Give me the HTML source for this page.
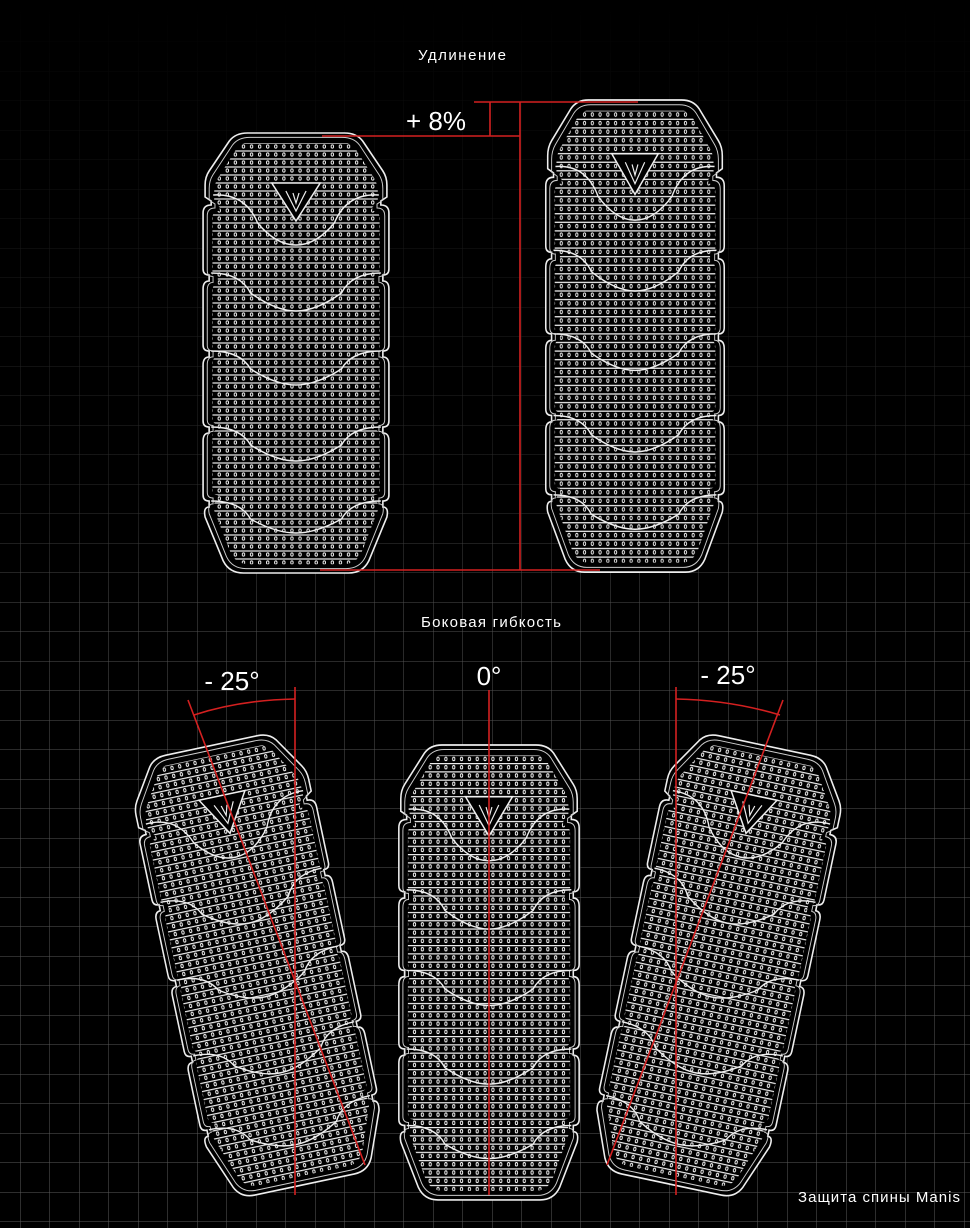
<!DOCTYPE html>
<html><head><meta charset="utf-8"><style>
html,body{margin:0;padding:0;background:#000;}
body{width:970px;height:1228px;overflow:hidden;position:relative;}
svg{position:absolute;left:0;top:0;}
</style></head><body>
<svg width="970" height="1228" viewBox="0 0 970 1228" xmlns="http://www.w3.org/2000/svg">
<defs>
  <linearGradient id="gfade" x1="0" y1="0" x2="0" y2="1">
    <stop offset="0" stop-color="#fff" stop-opacity="0"/>
    <stop offset="0.08" stop-color="#fff" stop-opacity="0.04"/>
    <stop offset="0.4" stop-color="#fff" stop-opacity="0.18"/>
    <stop offset="0.5" stop-color="#fff" stop-opacity="0.32"/>
    <stop offset="1" stop-color="#fff" stop-opacity="0.36"/>
  </linearGradient>
  <pattern id="grid" x="20" y="130" width="29.5" height="29.5" patternUnits="userSpaceOnUse">
    <path d="M0 0 H29.5 M0 0 V29.5" stroke="#fff" stroke-width="1" fill="none"/>
  </pattern>
  <mask id="gm"><rect width="970" height="1228" fill="url(#gfade)"/></mask>
  <pattern id="dots" x="0" y="0" width="8" height="8" patternUnits="userSpaceOnUse">
    <path d="M0 2 H8" stroke="#eee" stroke-width="1.2"/>
    <ellipse cx="4" cy="5.5" rx="1.2" ry="1.7" fill="none" stroke="#fff" stroke-width="0.9"/>
  </pattern>
  <path id="outer" d="M-48 0 L48 0 Q60 0 66 8 L86 38 Q90 44 90 52 L90 64 L84 68 L84 72 Q92 72 92 80 L92 136 Q92 142 86 142 L86 148 Q92 148 92 156 L92 212 Q92 218 86 218 L86 224 Q92 224 92 232 L92 288 Q92 294 86 294 L86 300 Q92 300 92 308 L92 362 Q92 368 86 368 L86 374 Q92 374 90 384 L72 428 Q66 440 52 440 L-52 440 Q-66 440 -72 428 L-90 384 Q-92 374 -86 374 L-86 368 Q-92 368 -92 362 L-92 308 Q-92 300 -86 300 L-86 294 Q-92 294 -92 288 L-92 232 Q-92 224 -86 224 L-86 218 Q-92 218 -92 212 L-92 156 Q-92 148 -86 148 L-86 142 Q-92 142 -92 136 L-92 80 Q-92 72 -84 72 L-84 68 L-90 64 L-90 52 Q-90 44 -86 38 L-66 8 Q-60 0 -48 0 Z"/>
  <clipPath id="inclip"><use href="#outer" transform="translate(0,220) scale(0.9,0.96) translate(0,-220)"/></clipPath>
  <g id="prot">
    <use href="#outer" fill="#000" stroke="#eee" stroke-width="1.6"/>
    <use href="#outer" fill="none" stroke="#ccc" stroke-width="1" transform="translate(0,220) scale(0.955,0.98) translate(0,-220)"/>
    <g clip-path="url(#inclip)">
      <rect x="-95" y="10" width="190" height="430" fill="url(#dots)"/>
    </g>
    <g fill="none" stroke="#eee" stroke-width="1.4">
      <path d="M-82 62 Q-50 60 -38 90 Q-20 112 0 112 Q20 112 38 90 Q50 60 82 62"/>
      <path d="M-84 140 Q-55 140 -45 160 Q-20 178 0 178 Q20 178 45 160 Q55 140 84 140"/>
      <path d="M-84 218 Q-55 218 -45 236 Q-20 252 0 252 Q20 252 45 236 Q55 218 84 218"/>
      <path d="M-84 294 Q-55 294 -45 312 Q-20 328 0 328 Q20 328 45 312 Q55 294 84 294"/>
      <path d="M-84 368 Q-55 368 -45 386 Q-20 400 0 400 Q20 400 45 386 Q55 368 84 368"/>
    </g>
    <polygon points="-24,50 24,50 0,88" fill="#000" stroke="#eee" stroke-width="1.5"/>
    <path d="M-10 58 L0 78 L10 58 M-3 60 L0 70 L3 60" fill="none" stroke="#eee" stroke-width="1.2"/>
  </g>
</defs>

<rect width="970" height="1228" fill="#000"/>
<rect width="970" height="1228" fill="url(#grid)" mask="url(#gm)"/>

<use href="#prot" transform="translate(296,133) scale(1.01,1)"/>
<use href="#prot" transform="translate(635,100) scale(0.97,1.073)"/>
<use href="#prot" transform="translate(489,745) scale(0.98,1.034)"/>
<use href="#prot" transform="translate(258,965) rotate(-12) scale(0.98,1.02) translate(0,-220)"/>
<use href="#prot" transform="translate(718,965) rotate(12) scale(0.98,1.02) translate(0,-220)"/>

<g stroke="#d42020" stroke-width="1.6" fill="none">
  <path d="M474 102 H638"/>
  <path d="M322 136 H520"/>
  <path d="M490 102 V136"/>
  <path d="M520 102 V570"/>
  <path d="M320 570 H600"/>
  <path d="M295 687 V1195"/>
  <path d="M188 700 L365 1165"/>
  <path d="M194 715 Q240 700 295 699"/>
  <path d="M489 690 V1195"/>
  <path d="M676 687 V1195"/>
  <path d="M783 700 L607 1165"/>
  <path d="M676 699 Q730 700 780 715"/>
</g>

<g fill="#fff" font-family="'Liberation Sans', 'DejaVu Sans', sans-serif">
  <text x="462" y="60" font-size="15" text-anchor="middle" textLength="88">Удлинение</text>
  <text x="436" y="130" font-size="26" text-anchor="middle">+ 8%</text>
  <text x="491" y="627" font-size="15" text-anchor="middle" textLength="140">Боковая гибкость</text>
  <text x="232" y="690" font-size="26" text-anchor="middle">- 25°</text>
  <text x="489" y="685" font-size="26" text-anchor="middle">0°</text>
  <text x="728" y="684" font-size="26" text-anchor="middle">- 25°</text>
  <text x="960" y="1202" font-size="15" text-anchor="end" textLength="162">Защита спины Manis</text>
</g>
</svg>
</body></html>
